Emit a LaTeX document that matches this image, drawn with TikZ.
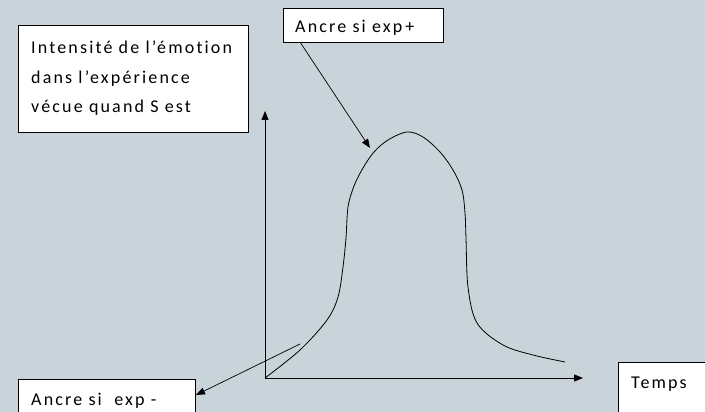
\documentclass[tikz,border=0pt]{standalone}
\usepackage{fontspec}
\setmainfont{Carlito}
\newfontfamily\lblfont[LetterSpace=12,Ligatures={NoCommon}]{Carlito}
\usetikzlibrary{arrows.meta}
\definecolor{bg}{HTML}{C8D3DA}
\begin{document}
\begin{tikzpicture}[x=1pt,y=-1pt,
  box/.style={draw=black,fill=white,line width=0.8pt,inner sep=0pt},
  lbl/.style={anchor=base west,inner sep=0pt,font=\lblfont\fontsize{18}{29}\selectfont},
  ax/.style={line width=0.9pt,-{Triangle[length=9pt,width=7pt]}},
  arr/.style={line width=0.7pt,-{Triangle[length=9pt,width=7pt]}}]
\fill[bg] (0,0) rectangle (705,412);
\useasboundingbox (0,0) rectangle (705,412);
% boxes
\draw[box] (18,25) rectangle (248,132);
\node[lbl] (t1) at (31,54) {Intensité de l’émotion};
\node[lbl] (t2) at (31,84) {dans l’expérience};
\node[lbl] (t3) at (31,113) {vécue quand S est};
\draw[box] (283,8) rectangle (443,42);
\node[lbl] (t4) at (295,33) {Ancre si exp\,+};
\draw[box] (18,379) rectangle (195,420);
\node[lbl] (t5) at (31,405) {Ancre si \ exp -};
\draw[box] (618,362) rectangle (712,420);
\node[lbl] (t6) at (631,388) {Temps};
% axes
\coordinate (o) at (265,378);
\coordinate (ytop) at (265,111);
\coordinate (xend) at (583,378);
\draw[ax] (o) -- (ytop);
\draw[ax] (o) -- (xend);
% curve
\draw[line width=0.8pt] plot[smooth,tension=0.55] coordinates {
 (265,378) (300,350) (327,320) (338,297) (343,267) (346,238) (348,207)
 (354,186) (363,168) (374,152) (388,140) (407,132) (423,137) (440,152)
 (453,170) (462,190) (465,213) (466,238)
 (468,287) (477,323) (503,345) (533,355) (565,362)};
% arrows
\coordinate (a1s) at (300,42);
\coordinate (a1e) at (370,148);
\draw[arr] (a1s) -- (a1e);
\coordinate (a2s) at (300,344);
\coordinate (a2e) at (196,395);
\draw[arr] (a2s) -- (a2e);
\end{tikzpicture}
\end{document}
